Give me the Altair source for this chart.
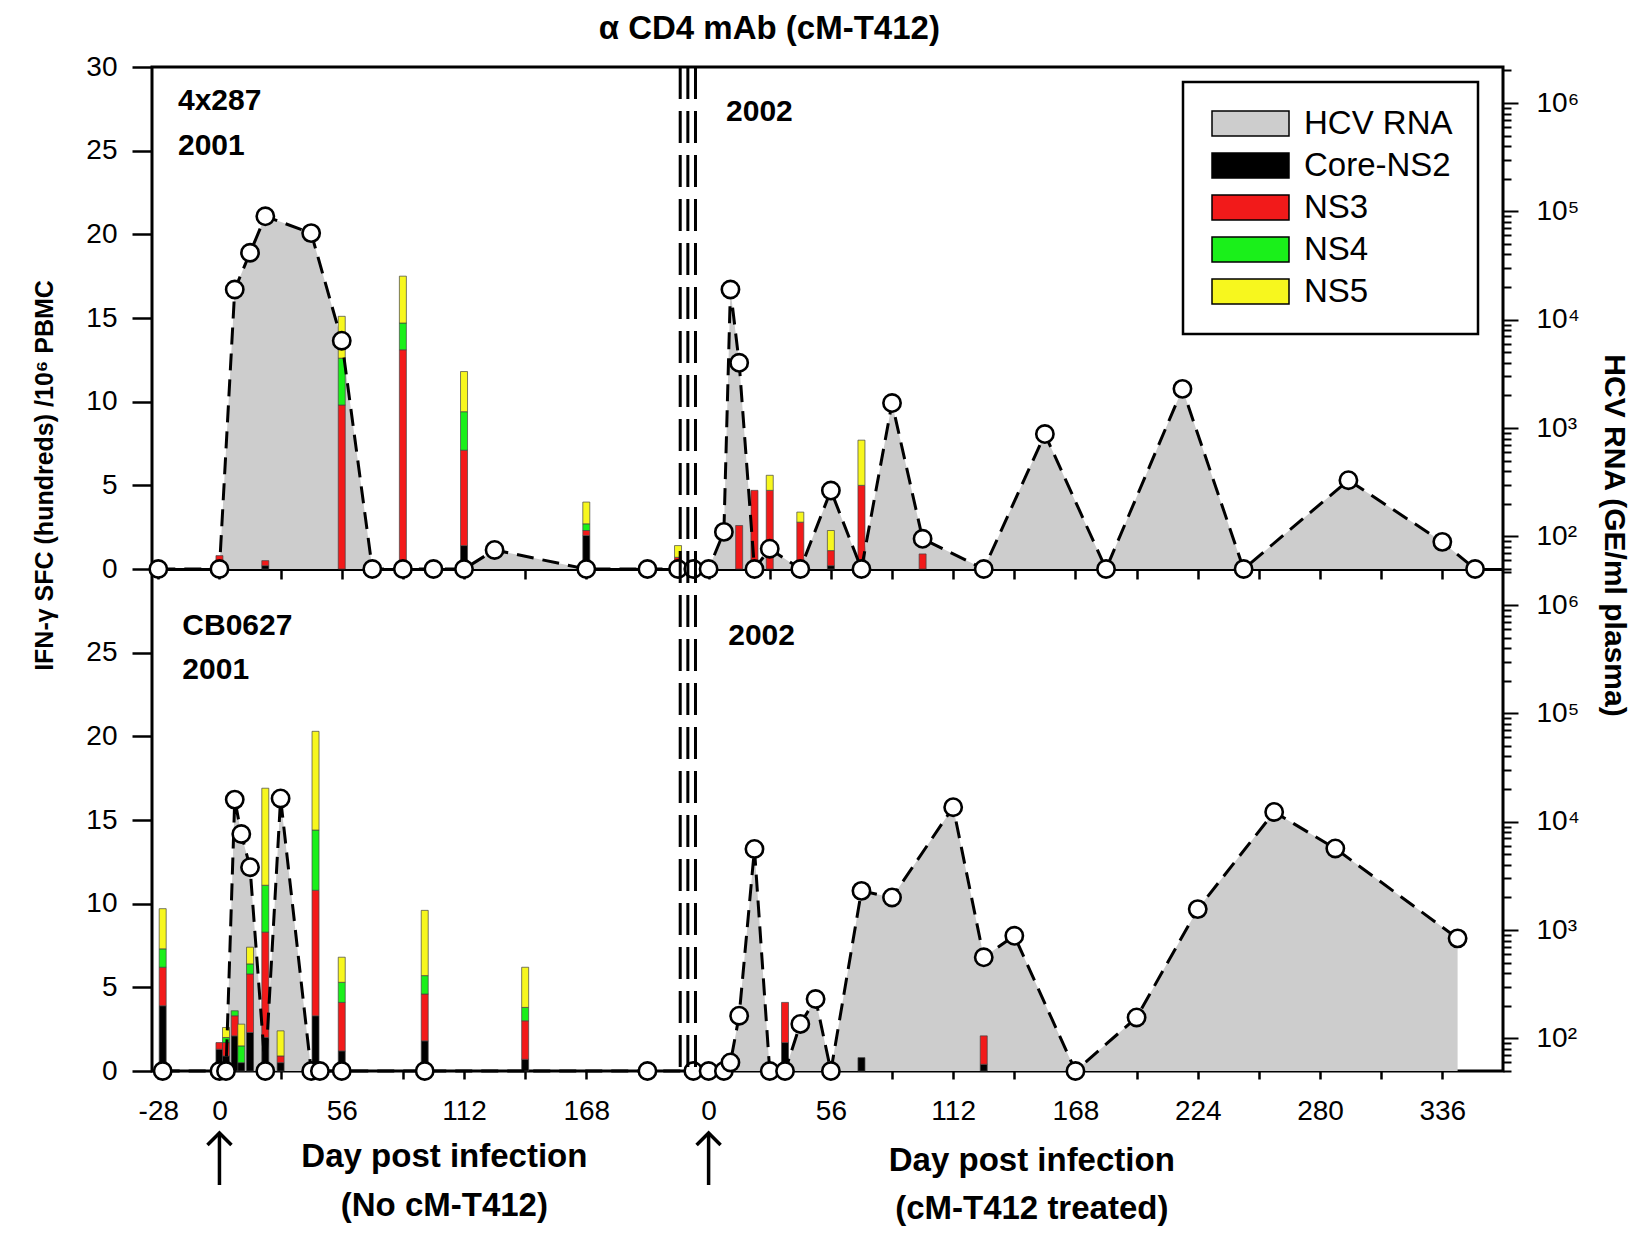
import json
import altair as alt
import pandas as pd

# ---------------- data ----------------
LOD = 50            # HCV RNA below detection: drawn on the baseline
SHIFT = 224         # axis shift of the second (cM-T412 treated) infection segment
ANTIGENS = ["Core-NS2", "NS3", "NS4", "NS5"]
SERIES = ["HCV RNA"] + ANTIGENS
COLORS = ["#cdcdcd", "#000000", "#f21a1a", "#1af01a", "#f7f71e"]

# ---- animal 4x287 (top) ----
t_rna_days_u = [-28, 0, 7, 14, 21, 42, 56, 70, 84, 98, 112, 126, 168, 196]
t_rna_u = [50, 50, 19000, 41500, 90000, 63000, 6400, 50, 50, 50, 50, 75, 50, 50]
t_rna_days_t = [-14, -7, 0, 7, 10, 14, 21, 28, 42, 56, 70, 84, 98, 126, 154, 182, 217, 245, 293, 336, 351]
t_rna_t = [50, 50, 50, 110, 19000, 4000, 50, 77, 50, 265, 50, 1700, 95, 50, 880, 50, 2300, 50, 330, 89, 50]

t_bar_days_u = [0, 21, 56, 84, 112, 168]
t_core_u = [0.3, 0.2, 0.0, 0.3, 1.4, 2.0]
t_ns3_u = [0.5, 0.3, 9.8, 12.8, 5.7, 0.3]
t_ns4_u = [0.0, 0.0, 2.8, 1.6, 2.3, 0.4]
t_ns5_u = [0.0, 0.0, 2.5, 2.8, 2.4, 1.3]
t_bar_days_t = [-14, 14, 21, 28, 42, 56, 70, 98]
t_core_t = [0.1, 0.0, 0.0, 0.0, 0.0, 0.2, 0.3, 0.0]
t_ns3_t = [0.6, 2.6, 4.7, 4.7, 2.8, 0.9, 4.7, 0.9]
t_ns4_t = [0.0, 0.0, 0.0, 0.0, 0.0, 0.0, 0.0, 0.0]
t_ns5_t = [0.7, 0.0, 0.0, 0.9, 0.6, 1.2, 2.7, 0.0]

# ---- animal CB0627 (bottom) ----
b_rna_days_u = [-26, 0, 3, 7, 10, 14, 21, 28, 42, 46, 56, 94, 196]
b_rna_u = [50, 50, 50, 16000, 7700, 3800, 50, 16400, 50, 50, 50, 50, 50]
b_rna_days_t = [-7, 0, 7, 10, 14, 21, 28, 35, 42, 49, 56, 70, 84, 112, 126, 140, 168, 196, 224, 259, 287, 343]
b_rna_t = [50, 50, 50, 60, 162, 5600, 50, 50, 136, 231, 50, 2300, 2000, 13600, 560, 885, 50, 156, 1560, 12300, 5660, 838]

b_bar_days_u = [-26, 0, 3, 7, 10, 14, 21, 28, 44, 56, 94, 140]
b_core_u = [3.9, 1.3, 0.9, 2.1, 0.5, 2.3, 2.0, 0.5, 3.3, 1.2, 1.8, 0.7]
b_ns3_u = [2.3, 0.4, 0.8, 1.2, 0.0, 3.5, 6.3, 0.4, 7.5, 2.9, 2.8, 2.3]
b_ns4_u = [1.1, 0.0, 0.3, 0.3, 1.0, 0.6, 2.8, 0.0, 3.6, 1.2, 1.1, 0.8]
b_ns5_u = [2.4, 0.0, 0.6, 0.0, 1.3, 1.0, 5.8, 1.5, 5.9, 1.5, 3.9, 2.4]
b_bar_days_t = [28, 35, 56, 70, 126]
b_core_t = [0.0, 1.7, 0.0, 0.8, 0.4]
b_ns3_t = [0.3, 2.4, 0.5, 0.0, 1.7]
b_ns4_t = [0.0, 0.0, 0.0, 0.0, 0.0]
b_ns5_t = [0.0, 0.0, 0.0, 0.0, 0.0]

# axis ticks / labels
x_ticks_u = [-28, 0, 28, 56, 84, 112, 140, 168]
x_labels_u = [-28, 0, 56, 112, 168]
x_ticks_t = [0, 28, 56, 84, 112, 140, 168, 196, 224, 252, 280, 308, 336]
x_labels_t = [0, 56, 112, 168, 224, 280, 336]
sfc_ticks_top = [0, 5, 10, 15, 20, 25, 30]
sfc_ticks_bot = [0, 5, 10, 15, 20, 25]
rna_major = [100, 1000, 10000, 100000, 1000000]
rna_major_text = ["10²", "10³", "10⁴", "10⁵", "10⁶"]
rna_minor = [m * 10 ** k for k in range(1, 7) for m in range(2, 10) if 50 <= m * 10 ** k <= 2.15e6]
BREAK_DAYS = [211, 214.5, 218]   # axis-break marks between the two segments
ARROW_DAYS = [0, SHIFT]          # infection day of each segment


def rna_frame(du, vu, dt, vt):
    return pd.DataFrame({
        "xpos": list(du) + [d + SHIFT for d in dt],
        "rna": list(vu) + list(vt),
        "base": LOD,
        "series": "HCV RNA",
    })


def bar_frame(du, cu, dt, ct):
    rows = []
    for days, comps, shift in ((du, cu, 0), (dt, ct, SHIFT)):
        for i, d in enumerate(days):
            for k, name in enumerate(ANTIGENS):
                v = comps[k][i]
                if v > 0:
                    rows.append({"xpos": d + shift, "sfc": v, "antigen": name, "k": k})
    return pd.DataFrame(rows)


top_rna = rna_frame(t_rna_days_u, t_rna_u, t_rna_days_t, t_rna_t)
bot_rna = rna_frame(b_rna_days_u, b_rna_u, b_rna_days_t, b_rna_t)
top_bar = bar_frame(t_bar_days_u, [t_core_u, t_ns3_u, t_ns4_u, t_ns5_u],
                    t_bar_days_t, [t_core_t, t_ns3_t, t_ns4_t, t_ns5_t])
bot_bar = bar_frame(b_bar_days_u, [b_core_u, b_ns3_u, b_ns4_u, b_ns5_u],
                    b_bar_days_t, [b_core_t, b_ns3_t, b_ns4_t, b_ns5_t])

# ---------------- layout / style ----------------
W, H = 1351, 1004
PH = 502
FONT = "Liberation Sans, Arial, Helvetica, sans-serif"

xscale = alt.Scale(domain=[-28.6, 585.5], nice=False, zero=False)
cscale = alt.Scale(domain=SERIES, range=COLORS)

xticks = x_ticks_u + [d + SHIFT for d in x_ticks_t]
x_label_expr = (
    f"datum.value < {SHIFT - 20} ? (indexof({json.dumps(x_labels_u)}, datum.value) >= 0 ? '' + datum.value : '') : "
    f"(indexof({json.dumps(x_labels_t)}, datum.value - {SHIFT}) >= 0 ? '' + (datum.value - {SHIFT}) : '')"
)
mid_axis = alt.Axis(orient="bottom", offset=-PH, values=xticks, labels=False, tickSize=10, tickWidth=2.5,
                    tickColor="black", domain=True, domainWidth=3, domainColor="black", grid=False, title=None)
bottom_axis = alt.Axis(orient="bottom", values=xticks, labelExpr=x_label_expr, tickSize=8, tickWidth=2.5,
                       tickColor="black", labelPadding=18, labelFlush=False, labelOverlap=False,
                       labelFont=FONT, labelFontSize=28, labelColor="black", domain=False, grid=False, title=None)

rna_label_expr = " : ".join(f"datum.value == {v} ? '{t}'" for v, t in zip(rna_major, rna_major_text)) + " : ''"
major_test = " || ".join(f"datum.value == {v}" for v in rna_major)


def rna_axis(title):
    kw = dict(orient="right", values=rna_major + rna_minor, labelExpr=rna_label_expr,
              tickSize={"condition": {"test": major_test, "value": 15}, "value": 8},
              tickWidth=2, tickColor="black", labelPadding=18, labelFlush=False, labelOverlap=False,
              labelFont=FONT, labelFontSize=28, labelColor="black", labelBaseline="middle",
              domain=False, grid=False)
    if title:
        kw.update(title=title, titleX=110, titleY=468, titleAngle=90, titleBaseline="middle",
                  titleAlign="center", titleFont=FONT, titleFontSize=30, titleFontWeight="bold",
                  titleColor="black")
    else:
        kw.update(title=None)
    return alt.Axis(**kw)


def sfc_axis(values, title):
    kw = dict(orient="left", values=values, tickSize=20, tickWidth=2.5, tickColor="black",
              labelPadding=15, labelFlush=False, labelOverlap=False, labelFont=FONT, labelFontSize=28,
              labelColor="black", domain=False, grid=False)
    if title:
        kw.update(title=title, titleX=-108, titleY=408, titleAngle=270, titleBaseline="middle",
                  titleAlign="center", titleFont=FONT, titleFontSize=25, titleFontWeight="bold",
                  titleColor="black")
    else:
        kw.update(title=None)
    return alt.Axis(**kw)


# swatch 77 x 25 px: path in units of sqrt(symbolSize)/2 = 12.5 px
legend = alt.Legend(title=None, orient="none", legendX=1031, legendY=15,
                    symbolType="M-1,-1H5.16V1H-1Z", symbolSize=625,
                    symbolStrokeColor="black", symbolStrokeWidth=1.5, symbolOpacity=1,
                    labelFont=FONT, labelFontSize=33, labelColor="black", labelOffset=63,
                    rowPadding=8, padding=25, strokeColor="black", fillColor="white")


def panel(rna_df, bar_df, rng, sfc_vals, xaxis, show_legend, sfc_title, rna_title):
    rna_scale = alt.Scale(type="log", domain=[LOD, 2.15e6], range=rng, nice=False)
    sfc_scale = alt.Scale(domain=[0, 30], range=rng, nice=False, zero=True)
    X0 = alt.X("xpos:Q", scale=xscale, axis=None)
    area = alt.Chart(rna_df).mark_area(opacity=1, interpolate="linear").encode(
        x=alt.X("xpos:Q", scale=xscale, axis=xaxis),
        y=alt.Y("rna:Q", scale=rna_scale, axis=rna_axis(rna_title)),
        y2=alt.Y2("base:Q"),
        color=alt.Color("series:N", scale=cscale, legend=legend if show_legend else None),
    )
    bars = alt.Chart(bar_df).mark_bar(size=7, stroke="#444444", strokeWidth=0.7, opacity=1).encode(
        x=X0,
        y=alt.Y("sfc:Q", stack="zero", scale=sfc_scale, axis=sfc_axis(sfc_vals, sfc_title)),
        color=alt.Color("antigen:N", scale=cscale, legend=None),
        order=alt.Order("k:Q", sort="ascending"),
    )
    line = alt.Chart(rna_df).mark_line(color="black", strokeWidth=3, strokeDash=[17, 9]).encode(
        x=X0, y=alt.Y("rna:Q", scale=rna_scale, axis=None))
    pts = alt.Chart(rna_df).mark_point(shape="circle", filled=True, fill="white", stroke="black",
                                      strokeWidth=2.6, size=300, opacity=1).encode(
        x=X0, y=alt.Y("rna:Q", scale=rna_scale, axis=None))
    return [area, bars, line, pts]


layers = []
layers += panel(top_rna, top_bar, [PH, 0], sfc_ticks_top, mid_axis, True,
                "IFN-γ SFC (hundreds) /10⁶ PBMC", "HCV RNA (GE/ml plasma)")
layers += panel(bot_rna, bot_bar, [H, PH], sfc_ticks_bot, bottom_axis, False, None, None)

# axis-break marks
breaks = alt.Chart(pd.DataFrame({"b": BREAK_DAYS})).mark_rule(
    color="black", strokeWidth=3, strokeDash=[32, 12]).encode(
    x=alt.X("b:Q", scale=xscale, axis=None))
layers.append(breaks)

# infection arrows under the axis
arrows_df = pd.DataFrame({"d": ARROW_DAYS})
layers.append(alt.Chart(arrows_df).mark_rule(color="black", strokeWidth=3.5).encode(
    x=alt.X("d:Q", scale=xscale, axis=None), y=alt.value(H + 64), y2=alt.value(H + 114)))
layers.append(alt.Chart(arrows_df).mark_point(shape="M-1,1L0,0L1,1", filled=False, stroke="black",
                                              strokeWidth=3.5, size=576, opacity=1).encode(
    x=alt.X("d:Q", scale=xscale, axis=None), y=alt.value(H + 62)))

ONE = pd.DataFrame({"k": [0]})


def label(text, xday, ypx, size=30, align="left", weight="bold"):
    return alt.Chart(ONE).mark_text(text=text, font=FONT, fontSize=size, fontWeight=weight,
                                    align=align, baseline="middle", color="black").encode(
        x=alt.XDatum(xday, type="quantitative", scale=xscale, axis=None), y=alt.value(ypx))


layers += [
    label("α CD4 mAb (cM-T412)", 251.8, -38, size=33, align="center"),
    label("4x287", -19, 34),
    label("2001", -19, 79),
    label("2002", 232, 45),
    label("CB0627", -17, PH + 57),
    label("2001", -17, PH + 101),
    label("2002", 233, PH + 67),
    label("Day post infection", 103, H + 86, size=33, align="center"),
    label("(No cM-T412)", 103, H + 135, size=33, align="center"),
    label("Day post infection", 372, H + 90, size=33, align="center"),
    label("(cM-T412 treated)", 372, H + 138, size=33, align="center"),
]

chart = alt.layer(*layers).resolve_scale(y="independent").resolve_axis(
    x="independent", y="independent").properties(
    width=W, height=H,
    autosize=alt.AutoSizeParams(type="none"),
    padding={"left": 152, "top": 67, "right": 1637 - 152 - W, "bottom": 1250 - 67 - H},
).configure_view(stroke="black", strokeWidth=3).configure_legend(strokeWidth=2.5)

chart.save("out.html", embed_options={"renderer": "svg", "actions": False})
